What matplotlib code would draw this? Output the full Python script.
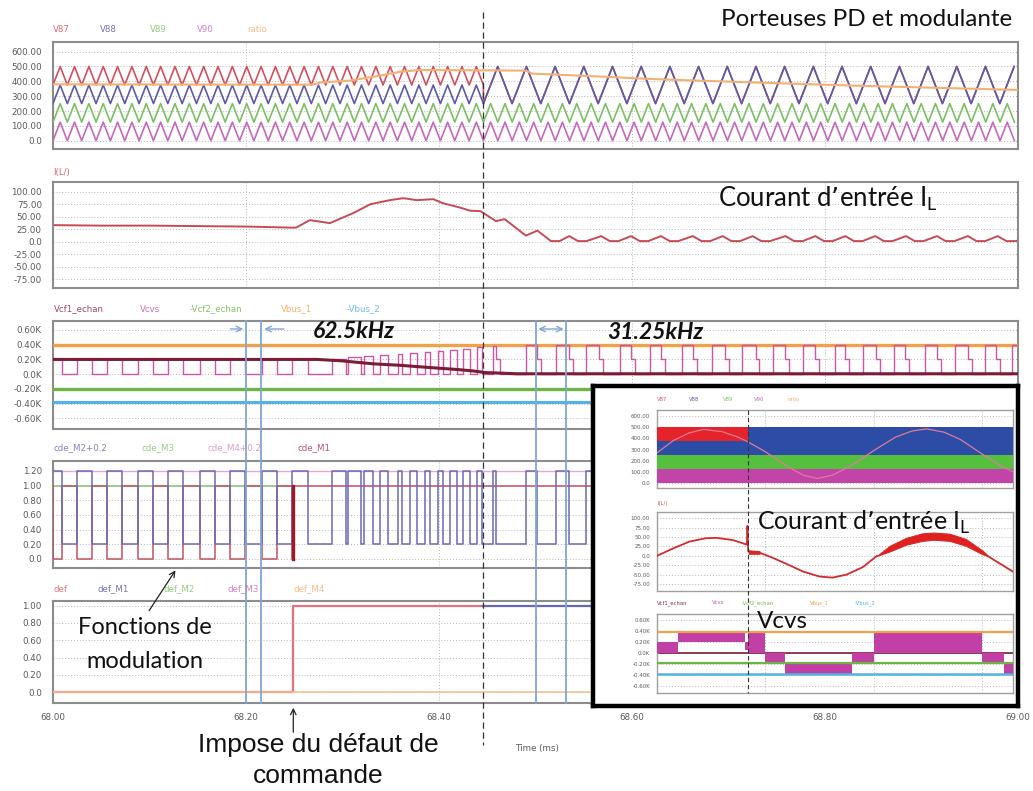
import numpy as np
import matplotlib
matplotlib.use("Agg")
import matplotlib.pyplot as plt

# ============================ DATA ============================
t_start, t_end = 68.0, 69.0
x_ticks = [68.0, 68.2, 68.4, 68.6, 68.8, 69.0]
x_ticklabels = ['68.00', '68.20', '68.40', '68.60', '68.80', '69.00']

# Panel 1 : carriers PD + modulating signal
p1_yticks = [0, 100, 200, 300, 400, 500, 600]
p1_ylabels = ['0.0', '100.00', '200.00', '300.00', '400.00', '500.00', '600.00']
carrier_names = ['V87', 'V88', 'V89', 'V90']
carrier_low = [375, 250, 125, 0]
carrier_high = [500, 375, 250, 125]
carrier_period = 0.01487
merged_low, merged_high, merged_period = 250, 500, 0.02973
merge_time = 68.446
ratio_t = [68.000, 68.150, 68.269, 68.277, 68.308, 68.336, 68.360, 68.380, 68.446,
           68.490, 68.497, 68.568, 68.622, 68.728, 68.835, 68.941, 69.000]
ratio_v = [380, 378, 378, 392, 405, 435, 465, 476, 474,
           472, 452, 432, 415, 392, 370, 352, 342]

# Panel 2 : input current I(L)
p2_yticks = [-75, -50, -25, 0, 25, 50, 75, 100]
p2_ylabels = ['-75.00', '-50.00', '-25.00', '0.0', '25.00', '50.00', '75.00', '100.00']
il_t = [68.000, 68.049, 68.100, 68.152, 68.204, 68.246, 68.252, 68.266, 68.287, 68.311,
        68.329, 68.349, 68.363, 68.377, 68.394, 68.404, 68.422, 68.432, 68.443, 68.459,
        68.468, 68.490, 68.502, 68.516, 68.525, 68.535, 68.544, 68.553, 68.568, 68.577,
        68.586, 68.599, 68.608, 68.617, 68.630, 68.639, 68.648, 68.663, 68.672, 68.681,
        68.694, 68.703, 68.712, 68.725, 68.734, 68.743, 68.759, 68.768, 68.777, 68.790,
        68.799, 68.808, 68.821, 68.830, 68.839, 68.852, 68.861, 68.870, 68.884, 68.893,
        68.902, 68.916, 68.925, 68.934, 68.948, 68.957, 68.966, 68.979, 68.988, 68.997, 69.000]
il_v = [33, 32, 32, 31, 30, 28, 28, 43, 37, 57,
        75, 83, 87, 83, 85, 77, 68, 62, 61, 41,
        45, 12, 22, 1, 1, 11, 1, 1, 11, 1,
        1, 11, 1, 1, 11, 1, 1, 11, 1, 1,
        11, 1, 1, 11, 1, 1, 11, 1, 1, 11,
        1, 1, 11, 1, 1, 11, 1, 1, 11, 1,
        1, 11, 1, 1, 11, 1, 1, 11, 1, 1, 2]

# Panel 3 : voltages (kV)
p3_yticks = [-0.6, -0.4, -0.2, 0.0, 0.2, 0.4, 0.6]
p3_ylabels = ['-0.60K', '-0.40K', '-0.20K', '0.0K', '0.20K', '0.40K', '0.60K']
vbus1_level = 0.39
vcf2_level = -0.20
vbus2_level = -0.375
vcf1_t = [68.000, 68.274, 68.300, 68.332, 68.360, 68.380, 68.401, 68.420, 68.435, 68.448, 68.481, 69.000]
vcf1_v = [0.200, 0.200, 0.180, 0.140, 0.120, 0.100, 0.080, 0.062, 0.044, 0.022, 0.005, 0.005]
vbus_total = 0.40
vcvs_step_level = 0.20

# Panel 4 : switching functions
p4_yticks = [0, 0.2, 0.4, 0.6, 0.8, 1.0, 1.2]
p4_ylabels = ['0.0', '0.20', '0.40', '0.60', '0.80', '1.00', '1.20']
fault_time = 68.249
pre_edges = [68.009, 68.025, 68.040, 68.056, 68.071, 68.088, 68.104, 68.119,
             68.135, 68.152, 68.168, 68.183, 68.199, 68.217, 68.232, 68.248]
post_low_start = [68.264, 68.304, 68.319, 68.332, 68.347, 68.362, 68.377, 68.391, 68.404,
                  68.419, 68.432, 68.445, 68.459, 68.502, 68.535, 68.566, 68.599, 68.630,
                  68.663, 68.696, 68.728, 68.759, 68.790, 68.821, 68.853, 68.883, 68.916,
                  68.948, 68.977]
post_low_end = [68.289, 68.306, 68.322, 68.339, 68.357, 68.370, 68.386, 68.399, 68.411,
                68.425, 68.439, 68.456, 68.490, 68.521, 68.552, 68.588, 68.619, 68.652,
                68.683, 68.714, 68.746, 68.777, 68.810, 68.839, 68.871, 68.904, 68.935,
                68.966, 68.994]

# Panel 5 : fault flags
p5_yticks = [0, 0.2, 0.4, 0.6, 0.8, 1.0]
p5_ylabels = ['0.0', '0.20', '0.40', '0.60', '0.80', '1.00']
dash_time = 68.446
cursor_times = [68.200, 68.216, 68.500, 68.532]

# Inset (zoomed-out view, arbitrary time units)
mini_tmax = 3.286
mini_dash = 0.837
mini_ratio_t = [0, 0.15, 0.3, 0.43, 0.6, 0.75, 0.837, 1.0, 1.2, 1.35, 1.48, 1.62, 1.8,
                2.0, 2.2, 2.35, 2.49, 2.65, 2.8, 3.0, 3.15, 3.286]
mini_ratio_v = [270, 380, 450, 480, 460, 410, 370, 280, 150, 70, 40, 70, 160,
                290, 410, 465, 485, 455, 390, 260, 167, 100]
mini_il_t = [0, 0.15, 0.3, 0.45, 0.55, 0.7, 0.83, 0.835, 0.842, 0.95, 1.05, 1.2, 1.35,
             1.5, 1.62, 1.75, 1.9, 2.03]
mini_il_v = [0, 20, 38, 47, 48, 42, 30, 80, 12, 8, -3, -22, -42,
             -55, -58, -50, -30, 0]
mini_il_band1_t = [0.842, 0.95]
mini_il_band1_lo = [4, 4]
mini_il_band1_hi = [16, 14]
mini_il_band2_t = [2.03, 2.15, 2.3, 2.45, 2.55, 2.7, 2.85, 3.0, 3.05]
mini_il_band2_hi = [0, 27, 48, 60, 62, 59, 45, 15, 2]
mini_il_band2_lo = [0, 12, 30, 40, 43, 40, 27, 5, 0]
mini_il_tail_t = [3.05, 3.15, 3.286]
mini_il_tail_v = [0, -18, -42]
mini_vcvs_t0 = [0, 0.19, 0.815, 0.837, 1.0, 1.185, 1.8, 2.0, 3.0, 3.2]
mini_vcvs_t1 = [0.19, 0.815, 0.837, 1.0, 1.185, 1.8, 2.0, 3.0, 3.2, 3.286]
mini_vcvs_lo = [0.0, 0.2, 0.05, 0.0, -0.2, -0.4, -0.2, 0.0, -0.2, -0.4]
mini_vcvs_hi = [0.2, 0.4, 0.2, 0.4, 0.0, -0.2, 0.0, 0.4, 0.0, -0.2]

# ============================ STYLE ============================
W, H = 1033, 791
fig = plt.figure(figsize=(W / 100, H / 100), dpi=100)
fig.patch.set_facecolor('white')

def rect(x0, y0, x1, y1):
    return [x0 / W, 1 - y1 / H, (x1 - x0) / W, (y1 - y0) / H]

def ftxt(x, y, s, **kw):
    kw.setdefault('zorder', 20)
    return fig.text(x / W, 1 - y / H, s, **kw)

GRID = dict(color='#b5b5b5', lw=0.7, ls=(0, (1, 2)))
TICKC = '#5a5a5a'

def style(ax, ylim, yt, yl, xlim=(t_start, t_end), xt=x_ticks, fs=6.3, pad=8, spine='#8c8c8c', slw=1.5):
    ax.set_xlim(*xlim)
    ax.set_ylim(*ylim)
    ax.set_yticks(yt)
    ax.set_yticklabels(yl, fontsize=fs, color=TICKC)
    ax.set_xticks(xt)
    ax.set_xticklabels([])
    ax.grid(True, **GRID)
    ax.tick_params(length=0, pad=pad)
    for s in ax.spines.values():
        s.set_color(spine)
        s.set_linewidth(slw)

C_RED = '#d2505e'
C_BLUE = '#5d5aa8'
C_GREEN = '#7cc063'
C_MAG = '#c46abc'
C_ORANGE = '#f2b072'

# ---------- Panel 1 ----------
ax1 = fig.add_axes(rect(53, 42, 1018, 149))
style(ax1, (-56, 665), p1_yticks, p1_ylabels)
vt = np.arange(t_start, t_end + 1e-9, carrier_period / 2)
carrier_cols = [C_RED, C_BLUE, C_GREEN, C_MAG]
mt = np.arange(merge_time, t_end + 1e-9, merged_period / 2)
mv = np.where(np.arange(len(mt)) % 2 == 0, merged_low, merged_high)
for i in [3, 2, 0, 1]:
    vv = np.where(np.arange(len(vt)) % 2 == 0, carrier_low[i], carrier_high[i])
    if i in (0, 1):
        keep = vt < merge_time - 1e-6
        tt = np.concatenate([vt[keep], [merge_time], mt])
        yy = np.concatenate([vv[keep], [carrier_low[i]], mv])
    else:
        tt, yy = vt, vv
    ax1.plot(tt, yy, color=carrier_cols[i], lw=1.2, zorder=3 + (i == 1))
ax1.plot(ratio_t, ratio_v, color=C_ORANGE, lw=1.5, zorder=5)

# ---------- Panel 2 ----------
ax2 = fig.add_axes(rect(53, 182, 1018, 288))
style(ax2, (-93, 119.4), p2_yticks, p2_ylabels)
ax2.plot(il_t, il_v, color='#c64b55', lw=1.4)

# ---------- switching data ----------
blue_lows = [(pre_edges[2 * k], pre_edges[2 * k + 1]) for k in range(len(pre_edges) // 2)]
blue_lows += list(zip(post_low_start, post_low_end))
red_lows = [(t_start, pre_edges[0])]
red_lows += [(pre_edges[2 * k + 1], pre_edges[2 * k + 2]) for k in range(len(pre_edges) // 2 - 1)]
red_lows += [(pre_edges[-1], fault_time)]

def square(lows, hi, lo, t0=t_start, t1=t_end):
    t, v = [t0], [hi]
    for a, b in lows:
        t += [a, a, b, b]
        v += [hi, lo, lo, hi]
    t.append(t1); v.append(hi)
    return t, v

def vcvs_level(t):
    if t < fault_time:
        return float(np.interp(t, vcf1_t, vcf1_v))
    return vbus_total - float(np.interp(t, vcf1_t, vcf1_v))

vc_t, vc_v = [], []
prev = t_start
for a, b in blue_lows:
    lvl = vcvs_level(prev)
    vc_t += [prev, a]; vc_v += [lvl, lvl]
    if a > 68.45:
        vc_t += [a, a + 0.004, a + 0.004, b]; vc_v += [vcvs_step_level, vcvs_step_level, 0, 0]
    else:
        vc_t += [a, b]; vc_v += [0, 0]
    prev = b
lvl = vcvs_level(prev)
vc_t += [prev, t_end]; vc_v += [lvl, lvl]

# ---------- Panel 3 ----------
ax3 = fig.add_axes(rect(53, 321, 1018, 429))
style(ax3, (-0.745, 0.722), p3_yticks, p3_ylabels)
ax3.axhline(vbus1_level, color='#f0a24a', lw=2.4, zorder=3)
ax3.axhline(vcf2_level, color='#6fb544', lw=2.4, zorder=3)
ax3.axhline(vbus2_level, color='#52b4e2', lw=2.2, zorder=3)
ax3.plot(vc_t, vc_v, color='#cc55a5', lw=1.0, zorder=4)
ax3.plot(vcf1_t, vcf1_v, color='#7a1c35', lw=2.2, zorder=5)

# ---------- Panel 4 ----------
ax4 = fig.add_axes(rect(53, 461, 1018, 568))
style(ax4, (-0.123, 1.336), p4_yticks, p4_ylabels)
ax4.axhline(1.2, color='#eaa6d0', lw=1.0, zorder=2)
ax4.plot([t_start, fault_time], [1.0, 1.0], color='#86c46a', lw=1.1, zorder=2)
rt, rv = square(red_lows, 1.0, 0.0)
ax4.plot(rt, rv, color='#c4525f', lw=1.1, zorder=3)
ax4.plot([fault_time, fault_time], [0, 1.0], color='#a01828', lw=2.4, zorder=5)
bt, bv = square(blue_lows, 1.2, 0.2)
ax4.plot(bt, bv, color='#6c69b8', lw=1.1, zorder=4)

# ---------- Panel 5 ----------
ax5 = fig.add_axes(rect(53, 601, 1018, 703))
style(ax5, (-0.124, 1.054), p5_yticks, p5_ylabels)
ax5.plot([t_start, fault_time, fault_time, dash_time], [0, 0, 1, 1], color='#e8707e', lw=1.6, zorder=3)
ax5.plot([dash_time, t_end], [1, 1], color='#6a66b4', lw=1.6, zorder=3)
ax5.axhline(0, color='#f4c08c', lw=1.1, zorder=4)
ax5.set_xticklabels(x_ticklabels, fontsize=6.3, color=TICKC)
ax5.tick_params(axis='x', pad=7)

# ---------- overlay (cursors, dashed marker, arrows) ----------
ov = fig.add_axes(rect(53, 0, 1018, 791), zorder=4)
ov.set_xlim(t_start, t_end)
ov.set_ylim(791, 0)
ov.axis('off')
ov.patch.set_alpha(0)
ov.plot([dash_time, dash_time], [12, 745], color='#333333', lw=0.9, ls=(0, (5, 3)))
for ct in cursor_times:
    ov.plot([ct, ct], [321, 703], color='#7ea6d6', lw=1.3)
acol = '#7ea6d6'
ov.annotate('', xy=(cursor_times[0], 329), xytext=(cursor_times[0] - 0.019, 329),
            arrowprops=dict(arrowstyle='->', color=acol, lw=1.0))
ov.annotate('', xy=(cursor_times[1], 329), xytext=(cursor_times[1] + 0.026, 329),
            arrowprops=dict(arrowstyle='->', color=acol, lw=1.0))
ov.annotate('', xy=(cursor_times[2], 329), xytext=(cursor_times[3], 329),
            arrowprops=dict(arrowstyle='<->', color=acol, lw=1.0))

# ---------- Inset ----------
ib = fig.add_axes(rect(593, 386, 1018, 706), zorder=5)
ib.set_xticks([]); ib.set_yticks([])
ib.set_facecolor('white')
for s in ib.spines.values():
    s.set_color('black'); s.set_linewidth(3.2)

def mini_style(ax, ylim, yt, yl):
    style(ax, ylim, yt, yl, xlim=(0, mini_tmax), xt=[1, 2, 3], fs=4.0, pad=5, spine='#a0a0a0', slw=1.0)

m1 = fig.add_axes(rect(657, 410, 1013, 488), zorder=6)
mini_style(m1, (-45, 654), p1_yticks, p1_ylabels)
m1.fill_between([0, mini_dash], carrier_low[0], carrier_high[0], color='#e5232b', lw=0, zorder=3)
m1.fill_between([0, mini_dash], carrier_low[1], carrier_high[1], color='#2d4ca6', lw=0, zorder=3)
m1.fill_between([mini_dash, mini_tmax], merged_low, merged_high, color='#2d4ca6', lw=0, zorder=3)
m1.fill_between([0, mini_tmax], carrier_low[2], carrier_high[2], color='#55bf3e', lw=0, zorder=3)
m1.fill_between([0, mini_tmax], carrier_low[3], carrier_high[3], color='#c244a8', lw=0, zorder=3)
m1.plot(mini_ratio_t, mini_ratio_v, color='#e07a9a', lw=0.9, zorder=4)

m2 = fig.add_axes(rect(657, 512, 1013, 591), zorder=6)
mini_style(m2, (-93.6, 116.8), p2_yticks, p2_ylabels)
m2.plot(mini_il_t, mini_il_v, color='#d42a2a', lw=1.3, zorder=4)
m2.fill_between(mini_il_band1_t, mini_il_band1_lo, mini_il_band1_hi, color='#d42a2a', lw=0, zorder=4)
m2.fill_between(mini_il_band2_t, mini_il_band2_lo, mini_il_band2_hi, color='#e0201e', lw=0.8,
                edgecolor='#d42a2a', zorder=4)
m2.plot(mini_il_tail_t, mini_il_tail_v, color='#d42a2a', lw=1.3, zorder=4)

m3 = fig.add_axes(rect(657, 614, 1013, 693), zorder=6)
mini_style(m3, (-0.727, 0.709), p3_yticks, p3_ylabels)
m3.axhline(0.0, color='#7a1c35', lw=1.2, zorder=2)
for a, b, lo, hi in zip(mini_vcvs_t0, mini_vcvs_t1, mini_vcvs_lo, mini_vcvs_hi):
    m3.fill_between([a, b], lo, hi, color='#c23fa6', lw=0, zorder=3)
m3.axhline(vbus1_level - 0.01, color='#f0a24a', lw=1.6, zorder=4)
m3.axhline(-0.19, color='#6fb544', lw=1.6, zorder=4)
m3.axhline(-0.38, color='#52b4e2', lw=1.8, zorder=4)

mov = fig.add_axes(rect(657, 0, 1013, 791), zorder=7)
mov.set_xlim(0, mini_tmax); mov.set_ylim(791, 0)
mov.axis('off'); mov.patch.set_alpha(0)
mov.plot([mini_dash, mini_dash], [410, 693], color='#333333', lw=0.8, ls=(0, (4, 2.5)))

# ---------- legends (small coloured labels) ----------
LFS = 6.2
for s, x, c in [('V87', 53, C_RED), ('V88', 100, C_BLUE), ('V89', 150, C_GREEN),
                ('V90', 197, C_MAG), ('ratio', 247, C_ORANGE)]:
    ftxt(x, 29, s, color=c, fontsize=LFS, va='center', alpha=0.85)
ftxt(53, 172, 'I(L/)', color='#c64b55', fontsize=LFS, va='center', alpha=0.85)
for s, x, c in [('Vcf1_echan', 54, '#8a2a45'), ('Vcvs', 140, '#c457a6'), ('-Vcf2_echan', 190, '#72b44a'),
                ('Vbus_1', 281, '#f0a24a'), ('-Vbus_2', 347, '#52b4e2')]:
    ftxt(x, 309, s, color=c, fontsize=LFS, va='center', alpha=0.85)
for s, x, c in [('cde_M2+0.2', 53, '#6c69b8'), ('cde_M3', 142, '#86c46a'),
                ('cde_M4+0.2', 208, '#d48ac0'), ('cde_M1', 297, '#a83a50')]:
    ftxt(x, 448, s, color=c, fontsize=LFS, va='center', alpha=0.85)
for s, x, c in [('def', 53, '#e0606e'), ('def_M1', 97, '#5d5aa8'), ('def_M2', 163, '#86c46a'),
                ('def_M3', 227, '#c46abc'), ('def_M4', 294, '#f0b072')]:
    ftxt(x, 589, s, color=c, fontsize=LFS, va='center', alpha=0.85)
ftxt(537, 749, 'Time (ms)', color=TICKC, fontsize=6.3, ha='center', va='center')

MFS = 3.8
for s, x, c in [('V87', 657, C_RED), ('V88', 689, C_BLUE), ('V89', 723, C_GREEN),
                ('V90', 754, C_MAG), ('ratio', 787, C_ORANGE)]:
    ftxt(x, 400, s, color=c, fontsize=MFS, va='center')
ftxt(657, 503, 'I(L/)', color='#c64b55', fontsize=MFS, va='center')
for s, x, c in [('Vcf1_echan', 657, '#8a2a45'), ('Vcvs', 712, '#c457a6'), ('-Vcf2_echan', 742, '#72b44a'),
                ('Vbus_1', 810, '#f0a24a'), ('-Vbus_2', 855, '#52b4e2')]:
    ftxt(x, 603, s, color=c, fontsize=MFS, va='center')

# ---------- annotations ----------
AF = ['Lato', 'DejaVu Sans']
ftxt(1012, 20, 'Porteuses PD et modulante', fontsize=17.4, family=AF, ha='right', va='center', color='#111111')
ftxt(718, 199, 'Courant d’entrée I$_\\mathregular{L}$', fontsize=18.5, family=AF, ha='left', va='center', color='#111111')
ftxt(313, 331, '62.5kHz', fontsize=16.5, family=AF, weight='bold', style='italic', ha='left', va='center', color='#111111')
ftxt(607, 333, '31.25kHz', fontsize=16.5, family=AF, weight='bold', style='italic', ha='left', va='center', color='#111111')
ftxt(145, 628, 'Fonctions de', fontsize=17, family=AF, ha='center', va='center', color='#111111')
ftxt(145, 661, 'modulation', fontsize=17, family=AF, ha='center', va='center', color='#111111')
NF = ['Liberation Sans Narrow', 'Liberation Sans', 'DejaVu Sans']
ftxt(318, 745, 'Impose du défaut de', fontsize=19, family=NF, ha='center', va='center', color='#111111')
ftxt(318, 776, 'commande', fontsize=19, family=NF, ha='center', va='center', color='#111111')
ftxt(757, 522, 'Courant d’entrée I$_\\mathregular{L}$', fontsize=18, family=AF, ha='left', va='center', color='#111111')
ftxt(757, 621, 'Vcvs', fontsize=17.5, family=AF, ha='left', va='center', color='#111111')

ov.annotate('', xy=(68.1285, 568), xytext=(68.098, 613),
            arrowprops=dict(arrowstyle='->', color='#222222', lw=0.9))
ov.annotate('', xy=(fault_time, 705), xytext=(fault_time, 735),
            arrowprops=dict(arrowstyle='->', color='#222222', lw=0.9))

fig.savefig('out.png', dpi=100, facecolor='white')
